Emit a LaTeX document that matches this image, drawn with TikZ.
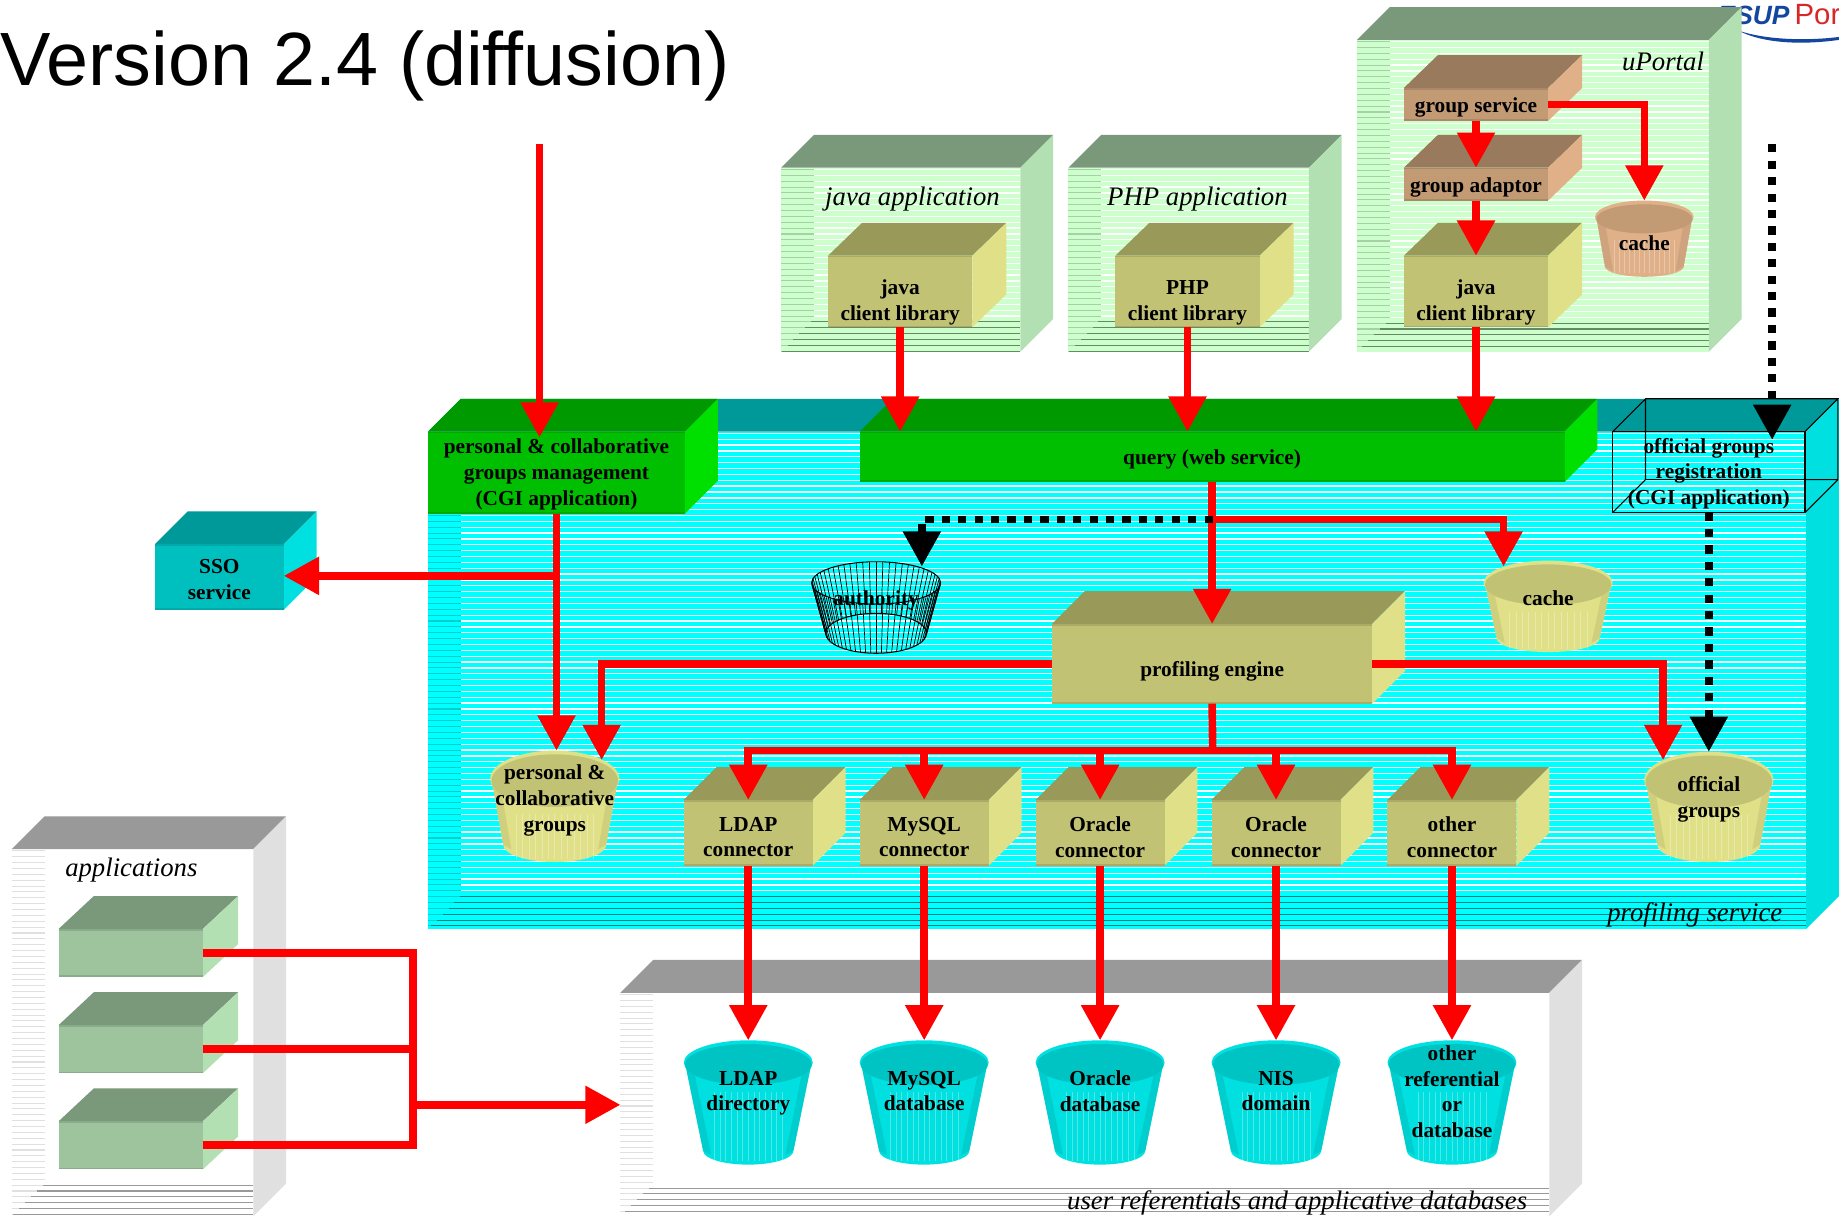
\documentclass[tikz,border=0pt]{standalone}
\usepackage{fontspec}
\setmainfont{Liberation Serif}
\newfontfamily\sansf{Liberation Sans}
\usetikzlibrary{arrows.meta,calc}
\definecolor{logoblue}{HTML}{14469F}\definecolor{logored}{HTML}{D72828}
\definecolor{olivefront}{HTML}{C2C274}\definecolor{olivetop}{HTML}{999959}\definecolor{oliveside}{HTML}{E0E088}
\definecolor{olivemid}{HTML}{E0E088}\definecolor{oliveedge}{HTML}{C2C274}\definecolor{olivecap}{HTML}{C2C274}
\definecolor{brownfront}{HTML}{C29A74}\definecolor{browntop}{HTML}{997A5C}\definecolor{brownside}{HTML}{E0B088}
\definecolor{brownmid}{HTML}{E0B088}\definecolor{brownedge}{HTML}{C29A74}\definecolor{browncap}{HTML}{C29A74}
\definecolor{greenfront}{HTML}{00BF00}\definecolor{greentop}{HTML}{009900}\definecolor{greenside}{HTML}{00E000}
\definecolor{tealfront}{HTML}{00BFBF}\definecolor{tealtop}{HTML}{009999}\definecolor{tealside}{HTML}{00E0E0}
\definecolor{tealmid}{HTML}{00E0E0}\definecolor{tealedge}{HTML}{00BFBF}\definecolor{tealcap}{HTML}{00C4C4}
\definecolor{palefront}{HTML}{9DC49D}\definecolor{paletop}{HTML}{7A987A}\definecolor{paleside}{HTML}{B3E0B3}
% open containers: back, stripe, left wall line, floor line
\definecolor{pzback}{HTML}{CCFFCC}\definecolor{pzstripe}{HTML}{FFFFFF}\definecolor{pzleft}{HTML}{A8D0A8}\definecolor{pzfloor}{HTML}{668866}\definecolor{pztop}{HTML}{7A987A}\definecolor{pzside}{HTML}{B3E0B3}
\definecolor{cyback}{HTML}{00FFFF}\definecolor{cystripe}{HTML}{FFFFFF}\definecolor{cyleft}{HTML}{00CFCF}\definecolor{cyfloor}{HTML}{007F7F}\definecolor{cytop}{HTML}{009999}\definecolor{cyside}{HTML}{00E0E0}
\definecolor{gyback}{HTML}{FFFFFF}\definecolor{gystripe}{HTML}{FFFFFF}\definecolor{gyleft}{HTML}{E0E0E0}\definecolor{gyfloor}{HTML}{999999}\definecolor{gytop}{HTML}{999999}\definecolor{gyside}{HTML}{E0E0E0}
\definecolor{redline}{HTML}{FF0000}
\tikzset{
  boxlabel/.style={font=\fontsize{18.2}{22}\selectfont\bfseries,align=center,text=black,inner sep=0pt,execute at begin node=\strut,execute at end node=\strut},
  arealabel/.style={font=\fontsize{22.8}{28}\selectfont\itshape,text=black,inner sep=0pt},
  ghost/.style={inner sep=0pt,outer sep=0pt,anchor=north west},
  redpipe/.style={draw=redline,line width=6.5pt},
  redarrow/.style={redpipe,-{Triangle[length=30pt,width=31pt,sep=0pt]}},
  dotpipe/.style={draw=black,line width=6.5pt,dash pattern=on 7pt off 7pt},
  dotarrow/.style={dotpipe,-{Triangle[length=30pt,width=31pt,sep=0pt]}},
  wire/.style={draw=black,line width=0.9pt}
}
\newcommand{\dxx}{28}
\newcommand{\taper}{0.8}
% [text dy]{name}{x1}{y1}{x2}{y2}{scheme}{text}
\newcommand{\solid}[8][0]{%
  \pgfmathsetmacro\bw{#5-#3}\pgfmathsetmacro\bh{#6-#4}%
  \fill[#7top] (#3,#4) -- (#3+\dxx,#4-28) -- (#5+\dxx,#4-28) -- (#5,#4) -- cycle;
  \fill[#7side] (#5,#4) -- (#5+\dxx,#4-28) -- (#5+\dxx,#6-28) -- (#5,#6) -- cycle;
  \node[ghost,fill=#7front,minimum width=\bw pt,minimum height=\bh pt] (#2) at (#3,#4) {};
  \draw[#7top!55!#7front,line width=1.4pt] (#3,#4+.7) -- (#5,#4+.7) (#3,#6-.7) -- (#5,#6-.7);
  \node[boxlabel] (#2-text) at ($(#2.center)+(0,#1)$) {#8};
}
% {name}{x1}{y1}{x2}{y2}{scheme}
\newcommand{\openbox}[6]{%
  \pgfmathsetmacro\bw{#4-#2}\pgfmathsetmacro\bh{#5-#3}%
  \fill[#6back] (#2,#3) rectangle (#4,#5);
  \pgfmathtruncatemacro\nn{(#5-#3)/5}%
  \foreach \k in {0,...,\nn}{%
    \pgfmathsetmacro\yy{#3+1.5+5*\k}%
    \pgfmathsetmacro\yfl{#5-28}%
    \ifdim\yy pt<\yfl pt
      \draw[#6stripe,line width=1.1pt] (#2+28,\yy) -- (#4,\yy);
      \draw[#6left,line width=.9pt] (#2,\yy) -- (#2+28,\yy);
    \else
      \ifdim\yy pt<#5 pt
      \draw[#6left,line width=.9pt] (#2,\yy) -- (#2+#5-\yy,\yy);
      \draw[#6floor,line width=.9pt] (#2+#5-\yy,\yy) -- (#4,\yy);
      \fi
    \fi
  }
  \fill[#6top] (#2,#3) -- (#2+28,#3-28) -- (#4+28,#3-28) -- (#4,#3) -- cycle;
  \fill[#6side] (#4,#3) -- (#4+28,#3-28) -- (#4+28,#5-28) -- (#4,#5) -- cycle;
  \node[ghost,minimum width=\bw pt,minimum height=\bh pt] (#1) at (#2,#3) {};
}
% {text y}{name}{cx}{top}{bot}{rx}{ry}{scheme}{text}
\newcommand{\cyl}[9]{%
  \pgfmathsetmacro\cy{#4+#7}\pgfmathsetmacro\rb{\taper*#6}\pgfmathsetmacro\ryb{0.62*#7}%
  \pgfmathsetmacro\by{#5-\ryb}\pgfmathsetmacro\bw{2*#6}\pgfmathsetmacro\bh{#5-#4}%
  \node[inner sep=0pt,outer sep=0pt,anchor=north,minimum width=\bw pt,minimum height=\bh pt] (#2) at (#3,#4) {};
  \fill[#8mid]
    (#3-#6+1,\cy) -- (#3-\rb,\by) arc[start angle=180,end angle=360,x radius=\rb pt,y radius=\ryb pt] -- (#3+#6-1,\cy) -- cycle;
  \fill[#8edge,opacity=.55] (#3-#6+1,\cy) -- (#3-\rb,\by) -- (#3-\rb+7,\by+4) -- (#3-#6+9,\cy+8) -- cycle;
  \fill[#8edge,opacity=.55] (#3+#6-1,\cy) -- (#3+\rb,\by) -- (#3+\rb-7,\by+4) -- (#3+#6-9,\cy+8) -- cycle;
  \foreach \k in {-6,...,6}{%
    \draw[white,opacity=.3,line width=.6pt] (#3+\k*\rb/8,\cy+#7+6) -- (#3+\k*\rb/8,#5-3);
  }
  \fill[#8mid] (#3,\cy) ellipse [x radius=#6 pt,y radius=#7 pt];
  \fill[#8cap] (#3,\cy+1.6) ellipse [x radius=#6 pt - 1pt,y radius=#7 pt - 1.6pt];
  \node[boxlabel] (#2-text) at (#3,#1) {#9};
}
\begin{document}
\begin{tikzpicture}[x=1pt,y=-1pt]
\useasboundingbox (0,0) rectangle (1568,1037.65);
\clip (0,0) rectangle (1568,1037.65);
\fill[white] (0,0) rectangle (1568,1037.65);

% title and logo
\node[anchor=base west,inner sep=0pt,font=\fontsize{64.4}{70}\selectfont\sansf] (title) at (0,73) {Version 2.4 (diffusion)};
\node[anchor=base east,inner sep=0pt,font=\fontsize{22.5}{26}\selectfont\sansf\bfseries\itshape,text=logoblue] (logoA) at (1526,20.5) {ESUP};
\node[anchor=base west,inner sep=0pt,font=\fontsize{25}{26}\selectfont\sansf,text=logored] (logoB) at (1530,20.5) {Por};
\fill[logoblue] (1482,26) .. controls (1505,34) and (1540,35) .. (1568,31.5) -- (1568,34) .. controls (1540,38) and (1505,38) .. (1482,26) -- cycle;

% client containers
\openbox{javaapp}{666}{143}{870}{300}{pz}
\openbox{phpapp}{911}{143}{1116}{300}{pz}
\openbox{uportal}{1157}{34}{1457}{300}{pz}
\node[arealabel] (javaapp-label) at (778,170) {java application};
\node[arealabel] (phpapp-label) at (1021,170) {PHP application};
\node[arealabel] (uportal-label) at (1418,52) {uPortal};

\renewcommand{\dxx}{29}
\solid[10.8]{javalib}{706}{218}{829}{279}{olive}{java\\client library}
\solid[10.8]{phplib}{951}{218}{1074}{279}{olive}{PHP\\client library}
\solid[10.8]{ujavalib}{1197}{218}{1320}{279}{olive}{java\\client library}
\solid[2.6]{groupsvc}{1197}{75}{1320}{103}{brown}{group service}
\solid[2.6]{groupad}{1197}{143}{1320}{171}{brown}{group adaptor}
\renewcommand{\dxx}{28}
\cyl{209.6}{ucache}{1402}{171}{236}{42}{14}{brown}{cache}

% profiling service
\openbox{profiling}{365}{368}{1540}{792}{cy}
\node[arealabel] (profiling-label) at (1445,780) {profiling service};

\solid[2.6]{persmgmt}{365}{368}{584}{438}{green}{personal \& collaborative\\groups management\\(CGI application)}
\solid[2.1]{query}{733}{368}{1334}{411}{green}{query (web service)}

\solid[5.4]{sso}{132}{464}{242}{520}{teal}{SSO\\service}

\solid[6.6]{engine}{897}{532}{1170}{600}{olive}{profiling engine}
\solid[6.9]{cLDAP}{583}{682}{693}{738}{olive}{LDAP\\connector}
\solid[6.9]{cMySQL}{733}{682}{843}{738}{olive}{MySQL\\connector}
\solid[6.9]{cOraA}{883}{682}{993}{738}{olive}{Oracle\\connector}
\solid[6.9]{cOraB}{1033}{682}{1143}{738}{olive}{Oracle\\connector}
\solid[6.9]{cOther}{1183}{682}{1293}{738}{olive}{other\\connector}

\cyl{511.6}{cache}{1320}{478}{556}{55}{19}{olive}{cache}
\cyl{683.6}{persgroups}{473}{640}{735}{55}{24}{olive}{personal \&\\collaborative\\groups}
\cyl{683}{offgroups}{1457}{641}{735}{55}{24}{olive}{official\\groups}

% authority (wire cylinder)
\node[inner sep=0pt,outer sep=0pt,minimum width=110pt,minimum height=80pt] (authority) at (747,518) {};
\foreach \a in {0,6,...,354}{%
  \draw[black,line width=.6pt] ({747+55*cos(\a)},{497+18*sin(\a)}) -- ({747+43*cos(\a)},{540+17*sin(\a)});
}
\draw[wire] (747,497) ellipse [x radius=55pt,y radius=18pt];
\draw[wire] (747,540) ellipse [x radius=43pt,y radius=17pt];
\node[boxlabel] (authority-text) at (747,512) {authority};

% official groups registration (wire box)
\node[ghost,draw=black,line width=1pt,minimum width=164pt,minimum height=69pt] (offreg) at (1375,368) {};
\draw[wire] (1375,368) -- (1403,340) -- (1567,340) -- (1539,368)
  (1567,340) -- (1567,409) -- (1539,437)
  (1403,340) -- (1403,409) -- (1567,409)
  (1403,409) -- (1375,437);
\node[boxlabel] (offreg-text) at (1457,405.2) {official groups\\registration\\(CGI application)};

% applications and databases
\openbox{apps}{10}{724}{216}{1037}{gy}
\node[arealabel] (apps-label) at (112,742) {applications};
\renewcommand{\dxx}{30}
\solid{appA}{50}{792}{173}{833}{pale}{}
\solid{appB}{50}{874}{173}{915}{pale}{}
\solid{appC}{50}{956}{173}{997}{pale}{}
\renewcommand{\dxx}{28}

\openbox{dbs}{529}{846.5}{1321}{1037}{gy}
\node[arealabel] (dbs-label) at (1106,1026) {user referentials and applicative databases};
\renewcommand{\taper}{0.7}
\cyl{933.4}{dLDAP}{638}{887}{993}{55}{19}{teal}{LDAP\\directory}
\cyl{933.4}{dMySQL}{788}{887}{993}{55}{19}{teal}{MySQL\\database}
\cyl{933.4}{dOra}{938}{887}{993}{55}{19}{teal}{Oracle\\database}
\cyl{933.4}{dNIS}{1088}{887}{993}{55}{19}{teal}{NIS\\domain}
\cyl{934}{dOther}{1238}{887}{993}{55}{19}{teal}{other\\referential\\or\\database}

% free connector ends
\coordinate (mgmtStart) at (460,123);
\coordinate (mgmtEnd) at (460,373);
\coordinate (ssoBranch) at (474,491);
\coordinate (persIn) at (513,648);
\coordinate (offIn) at (1418,648);
\coordinate (cacheIn) at (1282,483);
\coordinate (authIn) at (786,483);
\coordinate (queryBranch) at (1034,443);
\coordinate (bus) at (1034,640);
\coordinate (uStart) at (1511,123);
\coordinate (uEnd) at (1511,375);
\coordinate (appBus) at (352,942);
\coordinate (ucacheIn) at (1402,171);

% connectors
\draw[redarrow] (mgmtStart) -- (mgmtEnd);
\draw[redarrow] (persmgmt.south) -- (persmgmt.south |- persgroups.north);
\draw[redarrow] (ssoBranch) -- (ssoBranch -| sso.east);
\draw[redarrow] (javalib.south) -- (javalib.south |- query.north);
\draw[redarrow] (phplib.south) -- (phplib.south |- query.north);
\draw[redarrow] (ujavalib.south) -- (ujavalib.south |- query.north);
\draw[redarrow] (groupsvc.south) -- (groupad.north);
\draw[redarrow] (groupad.south) -- (ujavalib.north);
\draw[redarrow] (groupsvc.east) -| (ucacheIn);
\draw[redarrow] (query.south -| engine.north) -- (engine.north);
\draw[redarrow] (queryBranch) -| (cacheIn);
\draw[dotarrow] (queryBranch) -| (authIn);
\draw[redarrow] (engine.west) -| (persIn);
\draw[redarrow] (engine.east) -| (offIn);
\draw[redpipe] (engine.south) -- (bus);
\draw[redarrow] (bus) -| (cLDAP.north);
\draw[redarrow] (bus) -| (cMySQL.north);
\draw[redarrow] (bus) -| (cOraA.north);
\draw[redarrow] (bus) -| (cOraB.north);
\draw[redarrow] (bus) -| (cOther.north);
\draw[redarrow] (cLDAP.south) -- (dLDAP.north);
\draw[redarrow] (cMySQL.south) -- (dMySQL.north);
\draw[redarrow] (cOraA.south) -- (dOra.north);
\draw[redarrow] (cOraB.south) -- (dNIS.north);
\draw[redarrow] (cOther.south) -- (dOther.north);
\draw[dotarrow] (uStart) -- (uEnd);
\draw[dotarrow] (offreg.south) -- (offgroups.north);
\draw[redpipe] (appA.east) -| (appBus |- appC.east) -- (appC.east);
\draw[redpipe] (appB.east) -- (appB.east -| appBus);
\draw[redarrow] (appBus) -- (appBus -| dbs.west);
\end{tikzpicture}
\end{document}
